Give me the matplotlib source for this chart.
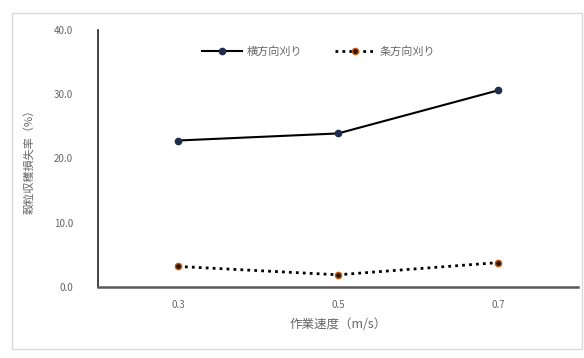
import matplotlib
matplotlib.use("Agg")
import matplotlib.pyplot as plt
from matplotlib.patches import Rectangle

plt.rcParams['font.family'] = ['Noto Sans CJK JP', 'DejaVu Sans']

categories = ["0.3", "0.5", "0.7"]
yoko = [22.8, 23.9, 30.6]
jou = [3.2, 1.9, 3.8]
series_names = ["横方向刈り", "条方向刈り"]
yticks = [0, 10, 20, 30, 40]

fig = plt.figure(figsize=(5.84, 3.58), dpi=100)
fig.patches.append(Rectangle((12/584, 1-349/358), (582-12)/584, (349-13)/358,
                             transform=fig.transFigure, fill=False,
                             edgecolor='#d9d9d9', linewidth=1))
ax = fig.add_axes([98/584, 1-287/358, 480/584, 257/358])
x = list(range(len(categories)))
ax.plot(x, yoko, color='black', lw=1.5, marker='o', ms=4.5,
        mfc='#1f2d50', mec='#1f2d50', label=series_names[0])
ax.plot(x, jou, color='black', lw=2, ls=(0, (1, 1.5)), marker='o', ms=4.5,
        mfc='#2a1a0a', mec='#c55a11', label=series_names[1])
ax.set_xlim(-0.5, len(categories) - 0.5)
ax.set_ylim(0, 40)
ax.set_xticks(x)
ax.set_xticklabels(categories)
ax.set_yticks(yticks)
ax.set_yticklabels([f"{v:.1f}" for v in yticks])
ax.tick_params(axis='both', length=0, labelsize=7, colors='#666666', pad=9)
ax.tick_params(axis='y', pad=18)
for s in ['top', 'right']:
    ax.spines[s].set_visible(False)
ax.spines['left'].set_color('#222222')
ax.spines['left'].set_linewidth(1.2)
ax.spines['bottom'].set_color('#595959')
ax.spines['bottom'].set_linewidth(1.8)
ax.set_xlabel("作業速度（m/s）", fontsize=9, color='#666666', labelpad=6)
ax.set_ylabel("穀粒収穫損失率（%）", fontsize=8, color='#666666', labelpad=14)
leg = ax.legend(loc='upper center', bbox_to_anchor=(0.46, 0.975), ncol=2, frameon=False,
                fontsize=8, labelcolor='#666666', handlelength=3.6, handletextpad=0.4,
                columnspacing=3.0)
fig.savefig("out.png", dpi=100)
